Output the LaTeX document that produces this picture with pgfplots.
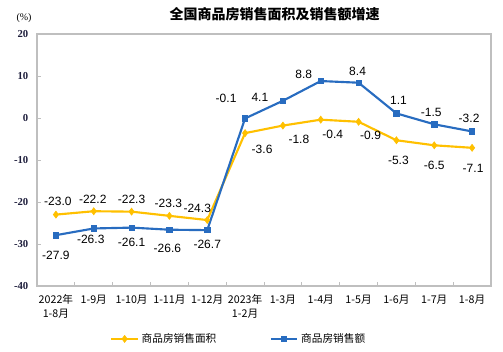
\documentclass[border=0pt]{standalone}
\usepackage{pgfplots}
\pgfplotsset{compat=1.18}
\usepackage{pgfplotstable}
\usepackage{fontspec}
\setmainfont{Liberation Sans}
\newfontfamily\cjk{Noto Sans CJK SC}
\newfontfamily\tnr{Liberation Serif}
\definecolor{cY}{RGB}{255,192,0}
\definecolor{cB}{RGB}{40,108,192}
\definecolor{axgray}{RGB}{191,191,191}
\definecolor{tickcol}{RGB}{30,30,60}

\pgfplotstableread{
x y lab dx dy
0 -23.0 -23.0 1.5 9.75
1 -22.2 -22.2 -0.75 9
2 -22.3 -22.3 0 9
3 -23.3 -23.3 -0.75 9
4 -24.3 -24.3 -7.5 9
5 -3.6 -3.6 12.75 -12
6 -1.8 -1.8 12 -10.5
7 -0.4 -0.4 9 -11.25
8 -0.9 -0.9 9 -10.5
9 -5.3 -5.3 1.5 -15
10 -6.5 -6.5 0 -15
11 -7.1 -7.1 0.75 -15.75
}\areadata

\pgfplotstableread{
x y lab dx dy
0 -27.9 -27.9 0 -15
1 -26.3 -26.3 -2.25 -8.25
2 -26.1 -26.1 0 -11.25
3 -26.6 -26.6 -1.5 -14.25
4 -26.7 -26.7 0 -10.5
5 -0.1 -0.1 -14.25 15
6 4.1 4.1 -17.25 2.25
7 8.8 8.8 -12.75 5.25
8 8.4 8.4 -0.75 8.25
9 1.1 1.1 1.5 9.75
10 -1.5 -1.5 -2.25 9
11 -3.2 -3.2 -2.25 9.75
}\salesdata

\begin{document}
\begin{tikzpicture}
\useasboundingbox (0,0) rectangle (377.25pt,264pt);
\node[font=\cjk\bfseries\fontsize{10.5}{12}\selectfont] at (206pt,253.5pt) {全国商品房销售面积及销售额增速};
\node[font=\tnr\fontsize{7.5}{9}\selectfont] at (18pt,250.5pt) {(\%)};
\begin{axis}[
  at={(27.75pt,49.5pt)}, anchor=south west,
  width=340.5pt, height=189pt, scale only axis,
  xmin=-0.5, xmax=11.5, ymin=-40, ymax=20,
  ytick={-40,-30,-20,-10,0,10,20},
  xtick={-0.5,0.5,1.5,2.5,3.5,4.5,5.5,6.5,7.5,8.5,9.5,10.5,11.5},
  x tick label as interval,
  xticklabels={{2022年\\1-8月},1-9月,1-10月,1-11月,1-12月,{2023年\\1-2月},1-3月,1-4月,1-5月,1-6月,1-7月,1-8月},
  xticklabel style={font=\cjk\fontsize{8}{10.5}\selectfont, align=center, yshift=-3pt},
  yticklabel style={font=\tnr\bfseries\fontsize{8}{9}\selectfont, text=tickcol, xshift=-3pt},
  /pgf/number format/assume math mode=true,
  axis line style={axgray, line width=0.8pt},
  tick style={axgray, line width=0.6pt},
  major tick length=3pt,
  tick align=inside,
  xtick pos=bottom, ytick pos=left,
  clip=false,
  legend style={at={(0.445,-0.21)}, anchor=center, draw=none, fill=none,
    legend columns=2, font=\cjk\fontsize{8}{9}\selectfont,
    /tikz/every even column/.append style={column sep=38pt}},
  legend image code/.code={
    \draw[#1] (0pt,0pt) -- (20pt,0pt);
    \draw[#1, mark repeat=1] plot coordinates {(10pt,0pt)};
  },
]
\addplot[cY, line width=1.6pt, mark=diamond*, mark size=2.6pt, mark options={fill=cY, line width=0.5pt},
  point meta=explicit symbolic, nodes near coords,
  visualization depends on={\thisrow{dx} \as \dx},
  visualization depends on={\thisrow{dy} \as \dy},
  nodes near coords style={anchor=center, xshift=\dx pt, yshift=\dy pt, text=black, font=\fontsize{9}{10}\selectfont}]
  table[x=x, y=y, meta=lab]{\areadata};
\addlegendentry{商品房销售面积}
\addplot[cB, line width=1.6pt, mark=square*, mark size=2pt, mark options={fill=cB, line width=0.5pt},
  point meta=explicit symbolic, nodes near coords,
  visualization depends on={\thisrow{dx} \as \dx},
  visualization depends on={\thisrow{dy} \as \dy},
  nodes near coords style={anchor=center, xshift=\dx pt, yshift=\dy pt, text=black, font=\fontsize{9}{10}\selectfont}]
  table[x=x, y=y, meta=lab]{\salesdata};
\addlegendentry{商品房销售额}
\end{axis}
\end{tikzpicture}
\end{document}
